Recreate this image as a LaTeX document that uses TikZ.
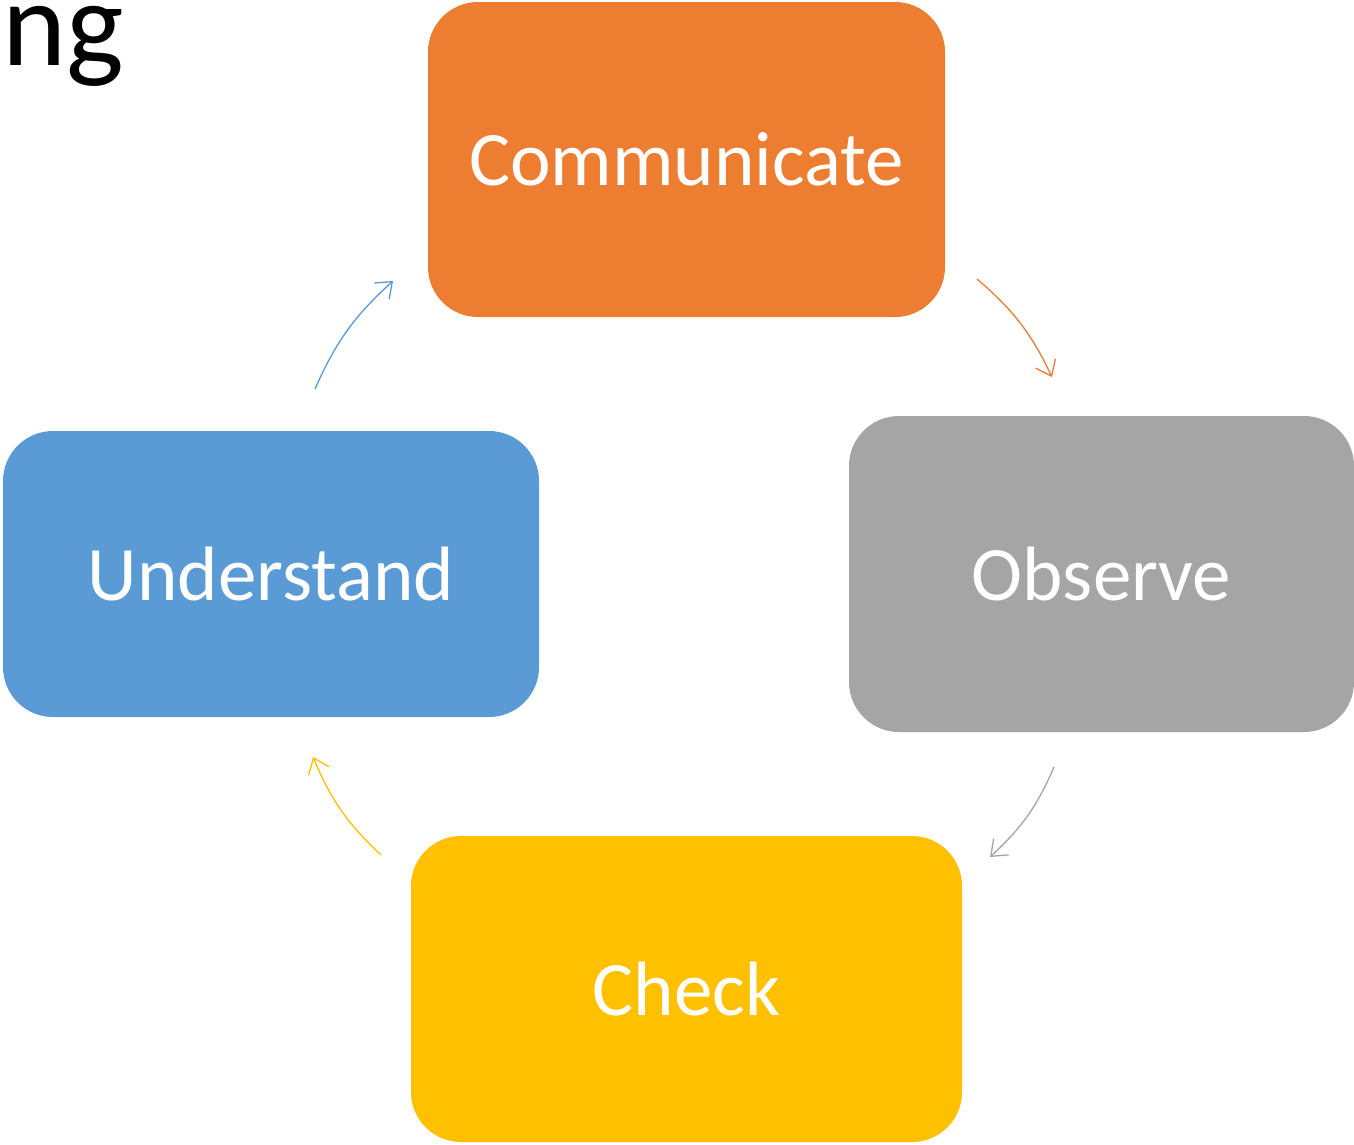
\documentclass[tikz,border=0pt]{standalone}
\usepackage{fontspec}
\setmainfont{Carlito}
\usetikzlibrary{arrows.meta}
\definecolor{corange}{HTML}{ED7D31}
\definecolor{cgray}{HTML}{A5A5A5}
\definecolor{cyellow}{HTML}{FFC000}
\definecolor{cblue}{HTML}{5B9BD5}
\begin{document}
\begin{tikzpicture}[x=1pt,y=1pt,
  stagebox/.style={rounded corners=50pt, inner sep=0pt, text=white,
    font=\fontsize{77}{90}\selectfont},
  cyc/.style={line width=1.3pt, -{Straight Barb[length=14pt,width=22pt,line width=1.3pt]}}]
\useasboundingbox (0,0) rectangle (1354,-1144);
\clip (0,0) rectangle (1354,-1144);
\fill[white] (0,0) rectangle (1354,-1144);
\node[anchor=base east, inner sep=0pt, font=\fontsize{122}{132}\selectfont] (title) at (124,-65) {ng};
\node[stagebox, fill=corange, minimum width=517pt, minimum height=315pt] (comm) at (686.5,-159.5) {Communicate};
\node[stagebox, fill=cgray, minimum width=505pt, minimum height=316pt] (obs) at (1101.5,-574) {Observe};
\node[stagebox, fill=cyellow, minimum width=551pt, minimum height=306pt] (chk) at (686.5,-989) {Check};
\node[stagebox, fill=cblue, minimum width=536pt, minimum height=286pt] (und) at (271,-574) {Understand};
\coordinate (a1s) at (977,-279);
\coordinate (a1e) at (1052,-377);
\coordinate (a2s) at (1054,-767);
\coordinate (a2e) at (990,-857);
\coordinate (a3s) at (381,-855);
\coordinate (a3e) at (313,-757);
\coordinate (a4s) at (315,-389);
\coordinate (a4e) at (393,-281);
\draw[cyc, corange] (a1s) to[bend left=12] (a1e);
\draw[cyc, cgray] (a2s) to[bend left=12] (a2e);
\draw[cyc, cyellow] (a3s) to[bend left=12] (a3e);
\draw[cyc, cblue] (a4s) to[bend left=12] (a4e);
\end{tikzpicture}
\end{document}
